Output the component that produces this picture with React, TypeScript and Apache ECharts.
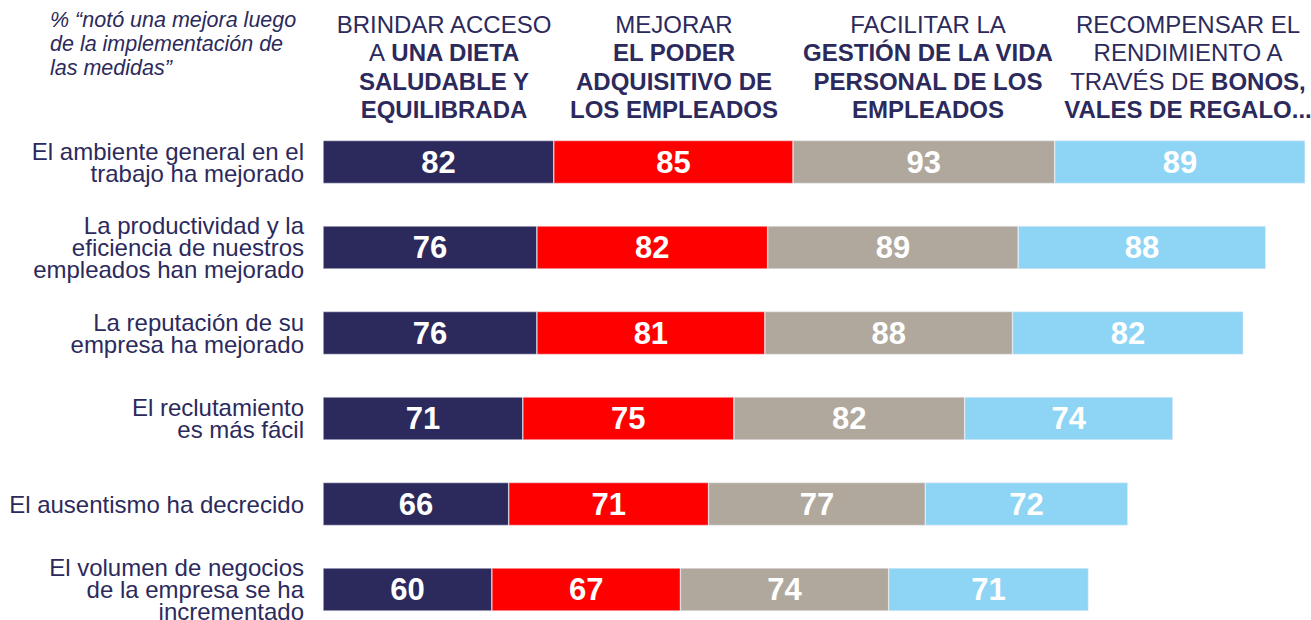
import React, { useEffect, useRef } from "react";
import * as echarts from "echarts";

const categories = [
  "El ambiente general en el\ntrabajo ha mejorado",
  "La productividad y la\neficiencia de nuestros\nempleados han mejorado",
  "La reputación de su\nempresa ha mejorado",
  "El reclutamiento\nes más fácil",
  "El ausentismo ha decrecido",
  "El volumen de negocios\nde la empresa se ha\nincrementado",
];

const dieta = [82, 76, 76, 71, 66, 60];
const poder = [85, 82, 81, 75, 71, 67];
const vida = [93, 89, 88, 82, 77, 74];
const bonos = [89, 88, 82, 74, 72, 71];

const seriesNames = [
  "Brindar acceso a una dieta saludable y equilibrada",
  "Mejorar el poder adquisitivo de los empleados",
  "Facilitar la gestión de la vida personal de los empleados",
  "Recompensar el rendimiento a través de bonos, vales de regalo...",
];

const headers = [
  "{n|BRINDAR ACCESO}\n{n|A }{b|UNA DIETA}\n{b|SALUDABLE Y}\n{b|EQUILIBRADA}",
  "{n|MEJORAR}\n{b|EL PODER}\n{b|ADQUISITIVO DE}\n{b|LOS EMPLEADOS}",
  "{n|FACILITAR LA}\n{b|GESTIÓN DE LA VIDA}\n{b|PERSONAL DE LOS}\n{b|EMPLEADOS}",
  "{n|RECOMPENSAR EL}\n{n|RENDIMIENTO A}\n{n|TRAVÉS DE }{b|BONOS,}\n{b|VALES DE REGALO...}",
];
const headerCenters = [444, 674, 928, 1188];

const note = "% “notó una mejora luego\nde la implementación de\nlas medidas”";

const colors = ["#2C2A5C", "#FF0000", "#B0A89D", "#8ED5F5"];
const NAVY = "#2C2A5C";
const FONT = "Liberation Sans, Arial, sans-serif";

export default function App() {
  const ref = useRef<HTMLDivElement>(null);
  useEffect(() => {
    if (!ref.current) return;
    const chart = echarts.init(ref.current, null, { renderer: "svg" });
    const values = [dieta, poder, vida, bonos];
    const rich = {
      n: { fontSize: 24, fontFamily: FONT, color: NAVY, lineHeight: 28.5 },
      b: { fontSize: 24, fontFamily: FONT, color: NAVY, fontWeight: "bold", lineHeight: 28.5 },
    };
    chart.setOption({
      animation: false,
      grid: { left: 323, top: 119.25, width: 985, height: 513, containLabel: false },
      xAxis: {
        type: "value",
        min: 0,
        max: 350,
        show: false,
      },
      yAxis: {
        type: "category",
        data: categories,
        inverse: true,
        axisLine: { show: false },
        axisTick: { show: false },
        splitLine: { show: false },
        axisLabel: {
          margin: 19,
          fontSize: 24,
          lineHeight: 22,
          color: NAVY,
          fontFamily: FONT,
          align: "right",
        },
      },
      series: values.map((d, i) => ({
        name: seriesNames[i],
        type: "bar",
        stack: "total",
        data: d,
        barWidth: 43,
        itemStyle: { color: colors[i], borderColor: "rgba(235,235,245,0.8)", borderWidth: 0.6 },
        label: {
          show: true,
          position: "inside",
          color: "#FFFFFF",
          fontSize: 31,
          fontWeight: "bold",
          fontFamily: FONT,
        },
      })),
      graphic: [
        {
          type: "text",
          left: 50,
          top: 8,
          style: {
            text: note,
            fontSize: 21.5,
            fontStyle: "italic",
            fontFamily: FONT,
            fill: NAVY,
            lineHeight: 24,
          },
        },
        ...headers.map((h, i) => ({
          type: "text",
          x: headerCenters[i],
          y: 10,
          style: {
            text: h,
            rich,
            align: "center",
            verticalAlign: "top",
            fontFamily: FONT,
            fontSize: 24,
            lineHeight: 28.5,
            fill: NAVY,
          },
        })),
      ],
    });
    return () => chart.dispose();
  }, []);
  return (
    <div style={{ position: "absolute", left: 0, top: 0, width: 1311, height: 620, overflow: "hidden", background: "#fff" }}>
      <div ref={ref} style={{ width: 1311, height: 660 }} />
    </div>
  );
}
